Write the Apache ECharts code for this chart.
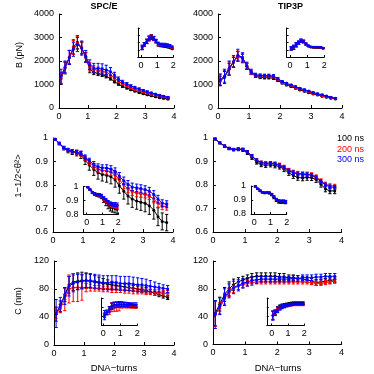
<!DOCTYPE html>
<html>
<head>
<meta charset="utf-8">
<script src="https://cdn.jsdelivr.net/npm/echarts@6.0.0/dist/echarts.min.js"></script>
<style>
  html, body { margin: 0; padding: 0; background: #fff; }
  #chart { width: 374px; height: 374px; }
</style>
</head>
<body>
<div id="chart"></div>
<script>
// DNA length in turns (x positions of the points)
const turns = [0.07, 0.21, 0.36, 0.5, 0.64, 0.79, 0.93, 1.07, 1.21, 1.36, 1.5, 1.64, 1.79, 1.93,
  2.07, 2.21, 2.36, 2.5, 2.64, 2.79, 2.93, 3.07, 3.21, 3.36, 3.5, 3.64, 3.79];
const runNames = ['100 ns', '200 ns', '300 ns'];

// B (pN), SPC/E
const spceB100 = [1250, 1700, 2150, 2600, 2800, 2550, 2150, 1650, 1520, 1470, 1420, 1350, 1250, 1120, 1010, 920, 850, 780, 720, 660, 610, 560, 520, 480, 440, 410, 380];
const spceB200 = [1280, 1720, 2170, 2580, 2780, 2560, 2170, 1750, 1650, 1600, 1570, 1520, 1420, 1270, 1140, 1030, 940, 860, 800, 740, 690, 640, 590, 550, 510, 470, 430];
const spceB300 = [1350, 1750, 2150, 2500, 2700, 2550, 2200, 1850, 1700, 1680, 1660, 1620, 1550, 1400, 1230, 1110, 1020, 940, 870, 810, 750, 690, 640, 590, 540, 500, 460];
const spceB100Err = [250, 250, 300, 300, 280, 250, 200, 150, 100, 90, 80, 70, 60, 50, 40, 40, 40, 35, 35, 30, 30, 30, 25, 25, 25, 25, 25];
const spceB200Err = [250, 250, 280, 300, 280, 250, 200, 180, 150, 140, 130, 120, 100, 80, 60, 50, 45, 40, 40, 35, 35, 30, 30, 30, 25, 25, 25];
const spceB300Err = [300, 250, 300, 300, 300, 300, 250, 200, 200, 220, 220, 200, 170, 120, 90, 70, 60, 50, 50, 45, 40, 40, 35, 35, 30, 30, 30];

// B (pN), TIP3P
const tip3pB100 = [1150, 1300, 1650, 1950, 2200, 2150, 1780, 1500, 1350, 1300, 1290, 1290, 1270, 1170, 1060, 980, 910, 840, 770, 710, 650, 600, 550, 500, 460, 420, 380];
const tip3pB200 = [1200, 1350, 1680, 1950, 2200, 2100, 1780, 1520, 1390, 1360, 1350, 1350, 1330, 1220, 1100, 1020, 950, 880, 810, 750, 690, 630, 580, 530, 490, 440, 400];
const tip3pB300 = [1200, 1350, 1700, 1980, 2250, 2150, 1800, 1550, 1420, 1390, 1380, 1380, 1360, 1250, 1130, 1050, 980, 910, 840, 780, 720, 660, 610, 560, 510, 460, 420];
const tip3pB100Err = [200, 250, 250, 200, 200, 150, 120, 80, 50, 50, 50, 50, 50, 40, 35, 30, 30, 25, 25, 25, 25, 20, 20, 20, 20, 20, 20];
const tip3pB200Err = [220, 250, 280, 220, 220, 180, 130, 90, 60, 55, 55, 55, 50, 45, 40, 35, 30, 30, 25, 25, 25, 25, 20, 20, 20, 20, 20];
const tip3pB300Err = [250, 300, 300, 250, 250, 200, 150, 100, 60, 60, 60, 60, 60, 50, 40, 40, 30, 30, 30, 30, 25, 25, 25, 25, 25, 25, 25];

// 1-1/2<theta^2>, SPC/E
const spceT100 = [0.995, 0.976, 0.956, 0.946, 0.94, 0.936, 0.928, 0.905, 0.885, 0.866, 0.852, 0.845, 0.841, 0.835, 0.822, 0.797, 0.773, 0.753, 0.74, 0.732, 0.727, 0.722, 0.712, 0.693, 0.665, 0.645, 0.64];
const spceT200 = [0.995, 0.977, 0.958, 0.948, 0.942, 0.938, 0.932, 0.913, 0.897, 0.88, 0.868, 0.862, 0.86, 0.855, 0.843, 0.822, 0.8, 0.783, 0.772, 0.766, 0.764, 0.761, 0.754, 0.74, 0.722, 0.71, 0.708];
const spceT300 = [0.995, 0.978, 0.96, 0.95, 0.944, 0.94, 0.935, 0.918, 0.903, 0.888, 0.877, 0.873, 0.872, 0.868, 0.858, 0.838, 0.818, 0.803, 0.792, 0.788, 0.785, 0.781, 0.774, 0.76, 0.74, 0.722, 0.718];
const spceT100Err = [0.003, 0.005, 0.007, 0.009, 0.01, 0.012, 0.015, 0.018, 0.022, 0.025, 0.027, 0.028, 0.029, 0.03, 0.031, 0.032, 0.033, 0.034, 0.035, 0.035, 0.035, 0.036, 0.037, 0.038, 0.038, 0.036, 0.035];
const spceT200Err = [0.003, 0.004, 0.005, 0.006, 0.007, 0.008, 0.009, 0.01, 0.011, 0.012, 0.013, 0.013, 0.014, 0.014, 0.015, 0.015, 0.016, 0.016, 0.016, 0.016, 0.016, 0.016, 0.016, 0.016, 0.016, 0.015, 0.015];
const spceT300Err = [0.003, 0.004, 0.005, 0.006, 0.007, 0.008, 0.009, 0.01, 0.011, 0.012, 0.013, 0.013, 0.014, 0.014, 0.015, 0.015, 0.016, 0.016, 0.016, 0.016, 0.016, 0.016, 0.016, 0.016, 0.016, 0.015, 0.015];

// 1-1/2<theta^2>, TIP3P
const tip3pT100 = [0.996, 0.979, 0.965, 0.955, 0.95, 0.952, 0.949, 0.937, 0.917, 0.897, 0.887, 0.884, 0.886, 0.883, 0.878, 0.868, 0.852, 0.84, 0.832, 0.83, 0.832, 0.831, 0.823, 0.803, 0.783, 0.775, 0.775];
const tip3pT200 = [0.996, 0.98, 0.966, 0.956, 0.952, 0.954, 0.952, 0.942, 0.924, 0.906, 0.896, 0.893, 0.894, 0.891, 0.886, 0.877, 0.864, 0.855, 0.85, 0.848, 0.847, 0.844, 0.835, 0.818, 0.804, 0.797, 0.795];
const tip3pT300 = [0.996, 0.98, 0.966, 0.956, 0.951, 0.953, 0.951, 0.941, 0.923, 0.905, 0.895, 0.892, 0.893, 0.889, 0.883, 0.874, 0.861, 0.852, 0.847, 0.845, 0.844, 0.841, 0.831, 0.814, 0.8, 0.792, 0.79];
const tip3pT100Err = [0.003, 0.004, 0.005, 0.005, 0.005, 0.006, 0.006, 0.007, 0.008, 0.008, 0.009, 0.009, 0.009, 0.01, 0.01, 0.011, 0.011, 0.012, 0.012, 0.012, 0.012, 0.012, 0.012, 0.012, 0.012, 0.012, 0.012];
const tip3pT200Err = [0.003, 0.003, 0.004, 0.004, 0.004, 0.005, 0.005, 0.005, 0.006, 0.006, 0.006, 0.006, 0.006, 0.007, 0.007, 0.007, 0.007, 0.008, 0.008, 0.008, 0.008, 0.008, 0.008, 0.008, 0.008, 0.008, 0.008];
const tip3pT300Err = [0.003, 0.003, 0.004, 0.004, 0.004, 0.005, 0.005, 0.005, 0.006, 0.006, 0.006, 0.006, 0.006, 0.007, 0.007, 0.007, 0.007, 0.008, 0.008, 0.008, 0.008, 0.008, 0.008, 0.008, 0.008, 0.008, 0.008];

// C (nm), SPC/E
const spceC100 = [44, 55, 72, 86, 90, 91, 92, 92, 91, 90, 89, 88, 87, 86, 85, 84, 83, 82, 81, 80, 79, 78, 76, 74, 72, 70, 68];
const spceC200 = [46, 52, 65, 80, 82, 82, 82, 82, 82, 81, 81, 80, 80, 79, 79, 79, 78, 78, 77, 77, 77, 76, 76, 75, 75, 74, 74];
const spceC300 = [45, 58, 70, 84, 88, 90, 91, 92, 92, 91, 90, 89, 89, 89, 89, 88, 88, 88, 87, 86, 86, 85, 84, 83, 82, 81, 80];
const spceC100Err = [10, 8, 10, 12, 12, 12, 12, 11, 10, 9, 8, 7, 6, 5, 5, 4, 4, 4, 4, 4, 4, 4, 3, 3, 3, 3, 3];
const spceC200Err = [8, 6, 16, 20, 20, 20, 18, 6, 5, 4, 4, 4, 4, 4, 4, 4, 4, 4, 4, 4, 4, 4, 4, 4, 4, 4, 4];
const spceC300Err = [20, 10, 12, 14, 12, 11, 10, 10, 10, 10, 10, 10, 10, 10, 10, 10, 10, 10, 10, 10, 9, 9, 8, 7, 6, 5, 5];

// C (nm), TIP3P
const tip3pC100 = [45, 58, 72, 80, 86, 90, 93, 95, 97, 98, 98, 98, 98, 98, 97, 97, 96, 96, 95, 94, 93, 91, 89, 90, 91, 92, 93];
const tip3pC200 = [44, 52, 66, 75, 80, 84, 86, 88, 89, 90, 90, 90, 90, 90, 90, 90, 90, 90, 90, 90, 90, 89, 88, 88, 89, 90, 91];
const tip3pC300 = [43, 55, 68, 77, 82, 85, 88, 90, 92, 93, 94, 94, 94, 94, 94, 94, 94, 95, 95, 96, 96, 96, 97, 97, 98, 98, 98];
const tip3pC100Err = [18, 10, 10, 10, 8, 6, 5, 5, 5, 5, 5, 5, 5, 5, 5, 5, 4, 4, 4, 4, 4, 4, 4, 4, 4, 4, 4];
const tip3pC200Err = [18, 8, 8, 6, 5, 5, 4, 4, 4, 3, 3, 3, 3, 3, 3, 3, 3, 3, 3, 3, 3, 3, 3, 3, 3, 3, 3];
const tip3pC300Err = [20, 12, 12, 10, 9, 8, 7, 6, 5, 5, 4, 4, 4, 4, 4, 4, 4, 4, 4, 4, 4, 4, 4, 4, 4, 4, 4];

// tick labels
const turnTicks = [0, 1, 2, 3, 4];
const insetTurnTicks = [0, 1, 2];

const colors = ['#000000', '#ff0000', '#0000ff'];
const FONT = 'Liberation Sans, Arial, sans-serif';

const myChart = echarts.init(document.getElementById('chart'), null, { renderer: 'canvas' });

// panels: main plots first, then the insets (same data up to 2 turns)
const panels = [
  { grid: { left: 59, top: 14, width: 115, height: 94 }, y: [0, 4000, 1000], means: [spceB100, spceB200, spceB300], errs: [spceB100Err, spceB200Err, spceB300Err] },
  { grid: { left: 218, top: 14, width: 124, height: 94 }, y: [0, 4000, 1000], means: [tip3pB100, tip3pB200, tip3pB300], errs: [tip3pB100Err, tip3pB200Err, tip3pB300Err] },
  { grid: { left: 53, top: 138, width: 120, height: 94 }, y: [0.6, 1, 0.1], means: [spceT100, spceT200, spceT300], errs: [spceT100Err, spceT200Err, spceT300Err] },
  { grid: { left: 213, top: 138, width: 128.5, height: 94 }, y: [0.6, 1, 0.1], means: [tip3pT100, tip3pT200, tip3pT300], errs: [tip3pT100Err, tip3pT200Err, tip3pT300Err] },
  { grid: { left: 54, top: 261, width: 120, height: 84 }, y: [0, 120, 40], means: [spceC100, spceC200, spceC300], errs: [spceC100Err, spceC200Err, spceC300Err] },
  { grid: { left: 213, top: 261, width: 128.5, height: 83.5 }, y: [0, 120, 40], means: [tip3pC100, tip3pC200, tip3pC300], errs: [tip3pC100Err, tip3pC200Err, tip3pC300Err] },
  // insets
  { inset: true, xmin: -0.2, grid: { left: 137.8, top: 28, width: 35.5, height: 29 }, y: [0, 4000, 1000], noYLabel: true, means: [spceB100, spceB200, spceB300], errs: [spceB100Err, spceB200Err, spceB300Err] },
  { inset: true, xmin: -0.2, grid: { left: 286.6, top: 28, width: 37.7, height: 29 }, y: [0, 4000, 1000], noYLabel: true, means: [tip3pB100, tip3pB200, tip3pB300], errs: [tip3pB100Err, tip3pB200Err, tip3pB300Err] },
  { inset: true, xmin: -0.2, grid: { left: 83.5, top: 186.5, width: 34.8, height: 28 }, y: [0.8, 1, 0.1], means: [spceT100, spceT200, spceT300], errs: [spceT100Err, spceT200Err, spceT300Err] },
  { inset: true, xmin: -0.2, grid: { left: 251.1, top: 186, width: 35.6, height: 28 }, y: [0.8, 1, 0.1], means: [tip3pT100, tip3pT200, tip3pT300], errs: [tip3pT100Err, tip3pT200Err, tip3pT300Err] },
  { inset: true, xmin: -0.1, grid: { left: 101.6, top: 298, width: 35.7, height: 27.5 }, y: [0, 120, 40], noYLabel: true, means: [spceC100, spceC200, spceC300], errs: [spceC100Err, spceC200Err, spceC300Err] },
  { inset: true, xmin: -0.3, grid: { left: 266.8, top: 298, width: 37.5, height: 27.5 }, y: [0, 120, 40], noYLabel: true, means: [tip3pC100, tip3pC200, tip3pC300], errs: [tip3pC100Err, tip3pC200Err, tip3pC300Err] }
];

// error bar with caps
function errorBar(color) {
  return function (params, api) {
    const hi = api.coord([api.value(0), api.value(2)]);
    const lo = api.coord([api.value(0), api.value(1)]);
    const w = 1.6;
    const st = { stroke: color, lineWidth: 1 };
    return {
      type: 'group',
      children: [
        { type: 'line', shape: { x1: hi[0], y1: hi[1], x2: lo[0], y2: lo[1] }, style: st },
        { type: 'line', shape: { x1: hi[0] - w, y1: hi[1], x2: hi[0] + w, y2: hi[1] }, style: st },
        { type: 'line', shape: { x1: lo[0] - w, y1: lo[1], x2: lo[0] + w, y2: lo[1] }, style: st }
      ]
    };
  };
}

// plain number labels, no thousands separator
const plainNum = (v) => String(+(+v).toFixed(2));

const grids = [], xAxes = [], yAxes = [], series = [];
const axisLine = { show: true, onZero: false, lineStyle: { color: '#000', width: 1 } };

panels.forEach((p, g) => {
  grids.push(Object.assign({ containLabel: false }, p.grid));
  const xa = {
    type: 'value', gridIndex: g, min: p.inset ? p.xmin : 0, max: p.inset ? 2 : 4,
    axisLine: axisLine, splitLine: { show: false },
    axisTick: { inside: true, length: p.inset ? 2 : 3, lineStyle: { color: '#000' } },
    axisLabel: { color: '#000', fontSize: 9, fontFamily: FONT, margin: 4, formatter: plainNum }
  };
  if (p.inset) {
    xa.axisTick.customValues = insetTurnTicks;
    xa.axisLabel.customValues = insetTurnTicks;
  } else {
    xa.interval = 1;
    xa.axisLabel.customValues = turnTicks;
  }
  xAxes.push(xa);
  yAxes.push({
    type: 'value', gridIndex: g, min: p.y[0], max: p.y[1], interval: p.y[2],
    axisLine: axisLine, splitLine: { show: false },
    axisTick: { inside: true, length: p.inset ? 2 : 3, lineStyle: { color: '#000' } },
    axisLabel: { show: !p.noYLabel, color: '#000', fontSize: 9, fontFamily: FONT, margin: 5, formatter: plainNum }
  });

  const n = p.inset ? 14 : turns.length;
  colors.forEach((c, i) => {
    const m = p.means[i], e = p.errs[i];
    series.push({
      type: 'custom', name: runNames[i], xAxisIndex: g, yAxisIndex: g,
      renderItem: errorBar(c), encode: { x: 0, y: [1, 2] }, silent: true, z: 2 + i,
      data: turns.slice(0, n).map((x, j) => [x, m[j] - e[j], m[j] + e[j]])
    });
    series.push({
      type: 'line', name: runNames[i], xAxisIndex: g, yAxisIndex: g, z: 2 + i,
      data: turns.slice(0, n).map((x, j) => [x, m[j]]),
      symbol: 'circle', symbolSize: p.inset ? 2.5 : 3, showSymbol: true,
      lineStyle: { color: c, width: 1 },
      itemStyle: { color: c, borderColor: c, borderWidth: 0 },
      silent: true
    });
  });
});

const txt = (x, y, text, extra) => Object.assign({
  type: 'text', x: x, y: y,
  style: Object.assign({ text: text, fill: '#000', font: '9px ' + FONT, align: 'center', verticalAlign: 'middle' }, extra || {})
});

myChart.setOption({
  animation: false,
  backgroundColor: '#fff',
  grid: grids,
  xAxis: xAxes,
  yAxis: yAxes,
  series: series,
  graphic: [
    txt(104, 7, 'SPC/E', { font: 'bold 9px ' + FONT }),
    txt(290.5, 7, 'TIP3P', { font: 'bold 9px ' + FONT }),
    Object.assign(txt(20, 55, 'B (pN)'), { rotation: Math.PI / 2 }),
    Object.assign(txt(18, 176, '1−1/2<θ²>', { font: '9.5px ' + FONT }), { rotation: Math.PI / 2 }),
    Object.assign(txt(19, 301, 'C (nm)'), { rotation: Math.PI / 2 }),
    txt(114, 368, 'DNA−turns', { font: '9.5px ' + FONT }),
    txt(278, 368, 'DNA−turns', { font: '9.5px ' + FONT }),
    txt(337, 139, runNames[0], { align: 'left', fill: colors[0] }),
    txt(337, 149.5, runNames[1], { align: 'left', fill: colors[1] }),
    txt(337, 160, runNames[2], { align: 'left', fill: colors[2] })
  ]
});
</script>
</body>
</html>
